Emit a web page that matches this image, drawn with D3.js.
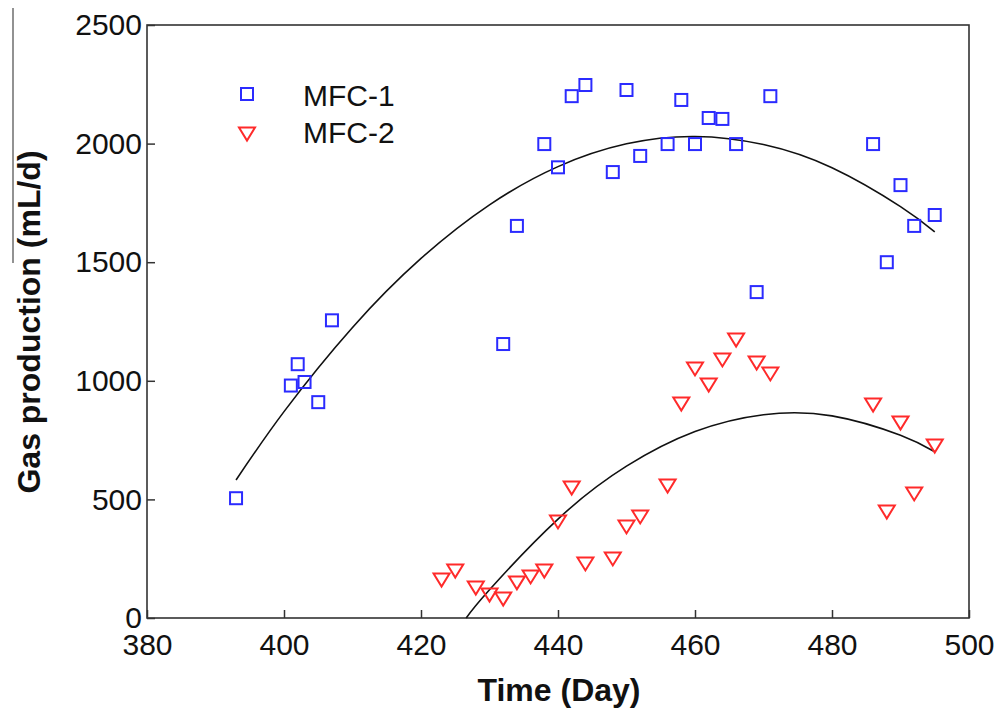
<!DOCTYPE html>
<html>
<head>
<meta charset="utf-8">
<script src="https://cdn.jsdelivr.net/npm/d3@7"></script>
<style>
  html, body { margin: 0; padding: 0; background: #fff; }
  svg { display: block; }
  text { font-family: "Liberation Sans", Arial, Helvetica, sans-serif; fill: #111; }
</style>
</head>
<body>
<svg id="chart" width="1000" height="719"></svg>
<script>
// ---- data ----
const mfc1Days = [393, 401, 402, 403, 405, 407, 432, 434, 438, 440, 442, 444, 448, 450, 452, 456, 458, 460, 462, 464, 466, 469, 471, 486, 488, 490, 492, 495];
const mfc1Gas  = [505, 980, 1070, 995, 910, 1255, 1155, 1653, 1998, 1900, 2200, 2247, 1880, 2226, 1948, 1998, 2184, 1998, 2108, 2104, 1998, 1374, 2200, 1998, 1500, 1825, 1653, 1699];

const mfc2Days = [423, 425, 428, 430, 432, 434, 436, 438, 440, 442, 444, 448, 450, 452, 456, 458, 460, 462, 464, 466, 469, 471, 486, 488, 490, 492, 495];
const mfc2Gas  = [160, 198, 126, 97, 80, 148, 173, 198, 405, 548, 228, 249, 384, 426, 556, 902, 1050, 982, 1088, 1172, 1075, 1029, 898, 447, 822, 523, 725];

// fitted trend curves
const fit1Days = [393, 400, 410, 420, 430, 440, 450, 460, 470, 480, 490, 495];
const fit1Gas  = [582, 870, 1225, 1516, 1742, 1903, 1999, 2030, 1996, 1898, 1734, 1628];
const fit2Days = [426.6, 430, 440, 450, 460, 470, 480, 490, 495];
const fit2Gas  = [0, 119, 417, 640, 786, 857, 852, 770, 701];

const xTicks = [380, 400, 420, 440, 460, 480, 500];
const yTicks = [0, 500, 1000, 1500, 2000, 2500];
const seriesNames = ["MFC-1", "MFC-2"];
const xTitle = "Time (Day)";
const yTitle = "Gas production (mL/d)";

// ---- drawing ----
const svg = d3.select("#chart");
const x = d3.scaleLinear().domain([380, 500]).range([147, 969]);
const y = d3.scaleLinear().domain([0, 2500]).range([618, 25]);

const blue = "#2b2bff", red = "#ff2a2a", axisCol = "#333";

// stray vertical line at left edge of the reference
svg.append("line").attr("x1", 13).attr("x2", 13).attr("y1", 8).attr("y2", 263)
  .attr("stroke", "#777").attr("stroke-width", 1.6);

// axes
const xAxis = d3.axisBottom(x).tickValues(xTicks).tickFormat(d3.format("d"))
  .tickSizeInner(-8).tickSizeOuter(0).tickPadding(16);
const gx = svg.append("g").attr("transform", `translate(0,${y(0)})`).call(xAxis);
const yAxis = d3.axisLeft(y).tickValues(yTicks).tickFormat(d3.format("d"))
  .tickSizeInner(-8).tickSizeOuter(0).tickPadding(5);
const gy = svg.append("g").attr("transform", `translate(${x(380)},0)`).call(yAxis);
[gx, gy].forEach(g => {
  g.select(".domain").remove();
  g.selectAll(".tick line").attr("stroke", axisCol).attr("stroke-width", 1.5);
  g.selectAll(".tick text").attr("font-size", 30).attr("fill", "#111")
    .attr("font-family", "'Liberation Sans', Arial, sans-serif");
});

// frame
svg.append("rect")
  .attr("x", x(380)).attr("y", y(2500))
  .attr("width", x(500) - x(380)).attr("height", y(0) - y(2500))
  .attr("fill", "none").attr("stroke", axisCol).attr("stroke-width", 1.6);

// fit curves
const line = d3.line().x(d => x(d[0])).y(d => y(d[1])).curve(d3.curveNatural);
svg.append("path").datum(d3.zip(fit1Days, fit1Gas)).attr("d", line)
  .attr("fill", "none").attr("stroke", "#111").attr("stroke-width", 1.6);
svg.append("path").datum(d3.zip(fit2Days, fit2Gas)).attr("d", line)
  .attr("fill", "none").attr("stroke", "#111").attr("stroke-width", 1.6);

// markers
const sq = 12;
function triPath(cx, cy) {
  const w = 8, h = 6.5;
  const p = d3.path();
  p.moveTo(cx - w, cy - h); p.lineTo(cx + w, cy - h); p.lineTo(cx, cy + h); p.closePath();
  return p.toString();
}
svg.append("g").selectAll("rect").data(d3.zip(mfc1Days, mfc1Gas)).join("rect")
  .attr("x", d => x(d[0]) - sq / 2).attr("y", d => y(d[1]) - sq / 2)
  .attr("width", sq).attr("height", sq)
  .attr("fill", "none").attr("stroke", blue).attr("stroke-width", 2);
svg.append("g").selectAll("path").data(d3.zip(mfc2Days, mfc2Gas)).join("path")
  .attr("d", d => triPath(x(d[0]), y(d[1])))
  .attr("fill", "none").attr("stroke", red).attr("stroke-width", 2);

// legend
const lg = svg.append("g");
lg.append("rect").attr("x", 247 - sq / 2).attr("y", 94 - sq / 2).attr("width", sq).attr("height", sq)
  .attr("fill", "none").attr("stroke", blue).attr("stroke-width", 2);
lg.append("path").attr("d", triPath(247, 134)).attr("fill", "none").attr("stroke", red).attr("stroke-width", 2);
lg.append("text").attr("x", 303).attr("y", 106).attr("font-size", 30).text(seriesNames[0]);
lg.append("text").attr("x", 303).attr("y", 143).attr("font-size", 30).text(seriesNames[1]);

// axis titles
svg.append("text").attr("x", 559).attr("y", 701).attr("text-anchor", "middle")
  .attr("font-size", 32).attr("font-weight", "bold").text(xTitle);
svg.append("text").attr("transform", "translate(40,322) rotate(-90)").attr("text-anchor", "middle")
  .attr("font-size", 32).attr("font-weight", "bold").text(yTitle);
</script>
</body>
</html>
